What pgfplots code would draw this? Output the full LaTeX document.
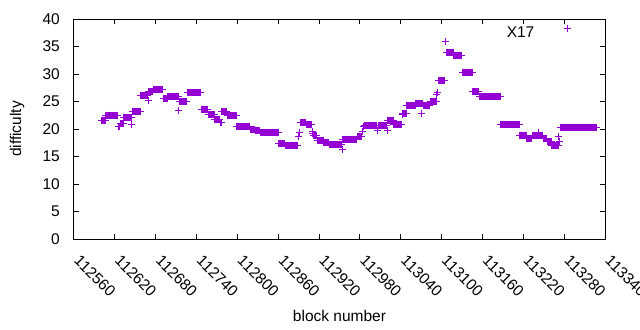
\documentclass[border=0pt]{standalone}
\usepackage{fontspec}
\setmainfont{Liberation Sans}
\usepackage{pgfplots}
\pgfplotsset{compat=1.18}
\definecolor{gpviolet}{RGB}{148,0,211}
\begin{document}
\begin{tikzpicture}[font=\fontsize{15.5bp}{18bp}\selectfont]
\path[use as bounding box, clip] (-74bp,-91bp) rectangle (566bp,239bp);
\begin{axis}[
  scale only axis, width=531bp, height=220bp,
  xmin=112560, xmax=113340, ymin=0, ymax=40,
  scaled x ticks=false, scaled y ticks=false,
  xtick={112560,112620,112680,112740,112800,112860,112920,112980,113040,113100,113160,113220,113280,113340},
  xticklabels={112560,112620,112680,112740,112800,112860,112920,112980,113040,113100,113160,113220,113280,113340},
  ytick={0,5,10,15,20,25,30,35,40},
  yticklabels={0,5,10,15,20,25,30,35,40},
  tick align=inside, major tick length=5bp,
  axis line style={line width=1bp},
  every tick/.style={black, line width=1bp},
  xticklabel style={xshift=7bp, yshift=-15bp, rotate=-45, anchor=north west, inner sep=0pt},
  yticklabel style={anchor=east, inner sep=0pt, xshift=-14bp},
  xlabel={block number}, ylabel={difficulty},
  xlabel style={at={(axis description cs:0.5,0)}, anchor=base, yshift=-82bp, inner sep=0pt},
  ylabel style={at={(axis description cs:-0.1073,0.5)}, anchor=center, inner sep=0pt},
  legend plot pos=right,
  legend image code/.code={\draw[#1] plot coordinates {(0bp,4bp)};},
  legend style={draw=none, fill=none, at={(axis description cs:0.937,0.941)}, anchor=east, inner sep=0pt, nodes={inner sep=0pt}, column sep=30bp},
]
\addplot[only marks, mark=+, mark size=3.5bp, color=gpviolet, line width=1bp] coordinates {
(112600,21.6)(112601,21.6)(112602,21.6)(112603,21.6)(112604,21.6)(112605,21.6)(112606,21.6)
(112607,22.5)(112608,22.5)(112609,22.5)(112610,22.5)(112611,22.5)(112612,22.5)(112613,22.5)(112614,22.5)(112615,22.5)(112616,22.5)(112617,22.5)(112618,22.5)(112619,22.5)(112620,22.5)(112621,22.5)(112622,22.5)(112623,22.5)(112624,22.5)
(112625,20.4)(112626,20.4)(112627,20.4)
(112628,21.0)(112629,21.0)(112630,21.0)(112631,21.0)(112632,21.0)
(112633,22.1)(112634,22.1)(112635,22.1)(112636,22.1)(112637,22.1)(112638,22.1)(112639,22.1)(112640,22.1)(112641,22.1)(112642,22.1)(112643,22.1)(112644,22.1)
(112645,20.9)
(112646,23.2)(112647,23.2)(112648,23.2)(112649,23.2)(112650,23.2)(112651,23.2)(112652,23.2)(112653,23.2)(112654,23.2)(112655,23.2)(112656,23.2)(112657,23.2)
(112658,26.1)(112659,26.1)(112660,26.1)(112661,26.1)(112662,26.1)(112663,26.1)(112664,26.1)(112665,26.1)(112666,26.1)(112667,26.1)(112668,26.1)
(112669,25.1)
(112670,26.8)(112671,26.8)(112672,26.8)(112673,26.8)(112674,26.8)(112675,26.8)(112676,26.8)
(112677,27.2)(112678,27.2)(112679,27.2)(112680,27.2)(112681,27.2)(112682,27.2)(112683,27.2)(112684,27.2)(112685,27.2)(112686,27.2)(112687,27.2)(112688,27.2)(112689,27.2)(112690,27.2)
(112691,25.5)(112692,25.5)(112693,25.5)(112694,25.5)(112695,25.5)(112696,25.5)(112697,25.5)
(112698,25.9)(112699,25.9)(112700,25.9)(112701,25.9)(112702,25.9)(112703,25.9)(112704,25.9)(112705,25.9)(112706,25.9)(112707,25.9)(112708,25.9)(112709,25.9)(112710,25.9)(112711,25.9)(112712,25.9)(112713,25.9)
(112714,23.3)
(112715,25.0)(112716,25.0)(112717,25.0)(112718,25.0)(112719,25.0)(112720,25.0)(112721,25.0)(112722,25.0)(112723,25.0)(112724,25.0)(112725,25.0)
(112726,26.6)(112727,26.6)(112728,26.6)(112729,26.6)(112730,26.6)(112731,26.6)(112732,26.6)(112733,26.6)(112734,26.6)(112735,26.6)(112736,26.6)(112737,26.6)(112738,26.6)(112739,26.6)(112740,26.6)(112741,26.6)(112742,26.6)(112743,26.6)(112744,26.6)(112745,26.6)(112746,26.6)
(112747,23.6)(112748,23.6)(112749,23.6)(112750,23.6)(112751,23.6)(112752,23.6)(112753,23.6)(112754,23.6)(112755,23.6)(112756,23.6)
(112757,22.6)(112758,22.6)(112759,22.6)(112760,22.6)(112761,22.6)(112762,22.6)(112763,22.6)(112764,22.6)(112765,22.6)(112766,22.6)
(112767,21.8)(112768,21.8)(112769,21.8)(112770,21.8)(112771,21.8)(112772,21.8)(112773,21.8)(112774,21.8)
(112775,21.1)(112776,21.1)
(112777,23.1)(112778,23.1)(112779,23.1)(112780,23.1)(112781,23.1)(112782,23.1)(112783,23.1)(112784,23.1)
(112785,22.5)(112786,22.5)(112787,22.5)(112788,22.5)(112789,22.5)(112790,22.5)(112791,22.5)(112792,22.5)(112793,22.5)(112794,22.5)(112795,22.5)(112796,22.5)(112797,22.5)(112798,22.5)
(112799,20.5)(112800,20.5)(112801,20.5)(112802,20.5)(112803,20.5)(112804,20.5)(112805,20.5)(112806,20.5)(112807,20.5)(112808,20.5)(112809,20.5)(112810,20.5)(112811,20.5)(112812,20.5)(112813,20.5)(112814,20.5)(112815,20.5)(112816,20.5)(112817,20.5)(112818,20.5)
(112819,20.0)(112820,20.0)(112821,20.0)(112822,20.0)(112823,20.0)(112824,20.0)(112825,20.0)
(112826,19.8)(112827,19.8)(112828,19.8)(112829,19.8)(112830,19.8)(112831,19.8)(112832,19.8)(112833,19.8)
(112834,19.4)(112835,19.4)(112836,19.4)(112837,19.4)(112838,19.4)(112839,19.4)(112840,19.4)(112841,19.4)(112842,19.4)(112843,19.4)(112844,19.4)(112845,19.4)(112846,19.4)(112847,19.4)(112848,19.4)(112849,19.4)(112850,19.4)(112851,19.4)(112852,19.4)(112853,19.4)(112854,19.4)(112855,19.4)(112856,19.4)(112857,19.4)(112858,19.4)(112859,19.4)(112860,19.4)
(112861,17.4)(112862,17.4)(112863,17.4)(112864,17.4)(112865,17.4)(112866,17.4)(112867,17.4)(112868,17.4)(112869,17.4)
(112870,17.0)(112871,17.0)(112872,17.0)(112873,17.0)(112874,17.0)(112875,17.0)(112876,17.0)(112877,17.0)(112878,17.0)(112879,17.0)(112880,17.0)(112881,17.0)(112882,17.0)(112883,17.0)(112884,17.0)(112885,17.0)(112886,17.0)(112887,17.0)(112888,17.0)(112889,17.0)
(112890,18.7)(112891,19.3)
(112892,21.1)(112893,21.1)(112894,21.1)(112895,21.1)(112896,21.1)(112897,21.1)(112898,21.1)(112899,21.1)(112900,21.1)
(112901,20.8)(112902,20.8)(112903,20.8)(112904,20.8)(112905,20.8)(112906,20.8)(112907,20.8)(112908,20.8)(112909,20.8)
(112910,19.5)(112911,19.1)
(112912,18.8)(112913,18.8)(112914,18.8)(112915,18.8)(112916,18.8)
(112917,17.9)(112918,17.9)(112919,17.9)(112920,17.9)(112921,17.9)(112922,17.9)(112923,17.9)(112924,17.9)(112925,17.9)(112926,17.9)
(112927,17.6)(112928,17.6)(112929,17.6)(112930,17.6)(112931,17.6)(112932,17.6)(112933,17.6)(112934,17.6)
(112935,17.1)(112936,17.1)(112937,17.1)(112938,17.1)(112939,17.1)(112940,17.1)(112941,17.1)(112942,17.1)(112943,17.1)(112944,17.1)(112945,17.1)(112946,17.1)(112947,17.1)(112948,17.1)(112949,17.1)(112950,17.1)(112951,17.1)(112952,17.1)(112953,17.1)
(112954,16.2)
(112955,18.1)(112956,18.1)(112957,18.1)(112958,18.1)(112959,18.1)(112960,18.1)(112961,18.1)(112962,18.1)(112963,18.1)(112964,18.1)(112965,18.1)(112966,18.1)(112967,18.1)(112968,18.1)(112969,18.1)(112970,18.1)(112971,18.1)(112972,18.1)(112973,18.1)(112974,18.1)(112975,18.1)
(112976,18.6)(112977,18.6)(112978,18.6)(112979,18.6)(112980,18.6)(112981,18.6)(112982,18.6)(112983,18.6)
(112984,19.6)(112985,20.5)
(112986,20.6)(112987,20.6)(112988,20.6)(112989,20.6)(112990,20.6)(112991,20.6)(112992,20.6)(112993,20.6)(112994,20.6)(112995,20.6)(112996,20.6)(112997,20.6)(112998,20.6)(112999,20.6)(113000,20.6)(113001,20.6)(113002,20.6)(113003,20.6)(113004,20.6)(113005,20.6)(113006,19.8)(113007,20.6)(113008,20.6)(113009,20.6)(113010,20.6)(113011,20.6)(113012,20.6)(113013,20.6)(113014,20.6)(113015,20.6)(113016,20.6)(113017,20.6)(113018,20.6)(113019,20.6)
(113020,19.7)
(113021,21.6)(113022,21.6)(113023,21.6)(113024,21.6)(113025,21.6)(113026,21.6)(113027,21.6)(113028,21.6)(113029,21.6)
(113030,20.8)(113031,20.8)(113032,20.8)(113033,20.8)(113034,20.8)(113035,20.8)(113036,20.8)(113037,20.8)(113038,20.8)(113039,20.8)(113040,20.8)(113041,20.8)
(113042,22.7)
(113043,22.9)(113044,22.9)(113045,22.9)(113046,22.9)(113047,22.9)(113048,22.9)
(113049,24.3)(113050,24.3)(113051,24.3)(113052,24.3)(113053,24.3)(113054,24.3)(113055,24.3)(113056,24.3)(113057,24.3)(113058,24.3)(113059,24.3)(113060,24.3)(113061,24.3)
(113062,24.6)(113063,24.6)(113064,24.6)(113065,24.6)(113066,24.6)(113067,24.6)(113068,24.6)(113069,24.6)(113070,24.6)(113071,22.9)(113072,24.6)
(113073,24.3)(113074,24.3)(113075,24.3)(113076,24.3)(113077,24.3)(113078,24.3)(113079,24.3)(113080,24.3)(113081,24.3)(113082,24.3)
(113083,25.0)(113084,25.0)(113085,25.0)(113086,25.0)(113087,25.0)(113088,25.0)(113089,25.0)(113090,25.0)(113091,25.0)(113092,25.0)
(113093,26.3)(113094,26.7)
(113095,28.8)(113096,28.8)(113097,28.8)(113098,28.8)(113099,28.8)(113100,28.8)(113101,28.8)(113102,28.8)(113103,28.8)(113104,28.8)
(113105,35.9)(113106,35.9)
(113107,33.9)(113108,33.9)(113109,33.9)(113110,33.9)(113111,33.9)(113112,33.9)(113113,33.9)(113114,33.9)(113115,33.9)(113116,33.9)(113117,33.9)
(113118,33.4)(113119,33.4)(113120,33.4)(113121,33.4)(113122,33.4)(113123,33.4)(113124,33.4)(113125,33.4)(113126,33.4)(113127,33.4)(113128,33.4)(113129,33.4)
(113130,30.3)(113131,30.3)(113132,30.3)(113133,30.3)(113134,30.3)(113135,30.3)(113136,30.3)(113137,30.3)(113138,30.3)(113139,30.3)(113140,30.3)(113141,30.3)(113142,30.3)(113143,30.3)(113144,30.3)(113145,30.3)
(113146,26.8)(113147,26.8)(113148,26.8)(113149,26.8)(113150,26.8)(113151,26.8)(113152,26.8)(113153,26.8)(113154,26.8)
(113155,25.9)(113156,25.9)(113157,25.9)(113158,25.9)(113159,25.9)(113160,25.9)(113161,25.9)(113162,25.9)(113163,25.9)(113164,25.9)(113165,25.9)(113166,25.9)(113167,25.9)(113168,25.9)(113169,25.9)(113170,25.9)(113171,25.9)(113172,25.9)(113173,25.9)(113174,25.9)(113175,25.9)(113176,25.9)(113177,25.9)(113178,25.9)(113179,25.9)(113180,25.9)(113181,25.9)(113182,25.9)(113183,25.9)(113184,25.9)(113185,25.9)(113186,25.9)
(113187,20.8)(113188,20.8)(113189,20.8)(113190,20.8)(113191,20.8)(113192,20.8)(113193,20.8)(113194,20.8)(113195,20.8)(113196,20.8)(113197,20.8)(113198,20.8)(113199,20.8)(113200,20.8)(113201,20.8)(113202,20.8)(113203,20.8)(113204,20.8)(113205,20.8)(113206,20.8)(113207,20.8)(113208,20.8)(113209,20.8)(113210,20.8)(113211,20.8)(113212,20.8)(113213,20.8)(113214,20.8)
(113215,18.9)(113216,18.9)(113217,18.9)(113218,18.9)(113219,18.9)(113220,18.9)(113221,18.9)(113222,18.9)(113223,18.9)(113224,18.9)
(113225,18.3)(113226,18.3)(113227,18.3)(113228,18.3)(113229,18.3)(113230,18.3)(113231,18.3)(113232,18.3)
(113233,18.9)(113234,18.9)(113235,18.9)(113236,18.9)(113237,18.9)(113238,18.9)(113239,18.9)(113240,18.9)(113241,18.9)
(113242,19.4)
(113243,18.9)(113244,18.9)(113245,18.9)(113246,18.9)(113247,18.9)(113248,18.9)
(113249,18.3)(113250,18.3)(113251,18.3)(113252,18.3)(113253,18.3)(113254,18.3)
(113255,17.7)(113256,17.7)(113257,17.7)(113258,17.7)(113259,17.7)(113260,17.7)(113261,17.7)
(113262,17.0)(113263,17.0)(113264,17.0)(113265,17.0)(113266,17.0)(113267,17.0)(113268,17.0)(113269,17.0)(113270,17.0)(113271,17.0)
(113272,18.6)(113273,17.8)
(113274,20.3)(113275,20.3)(113276,20.3)(113277,20.3)(113278,20.3)(113279,20.3)(113280,20.3)(113281,20.3)(113282,20.3)(113283,20.3)(113284,20.3)(113285,20.3)(113286,20.3)(113287,20.3)(113288,20.3)(113289,20.3)(113290,20.3)(113291,20.3)(113292,20.3)(113293,20.3)(113294,20.3)(113295,20.3)(113296,20.3)(113297,20.3)(113298,20.3)(113299,20.3)(113300,20.3)(113301,20.3)(113302,20.3)(113303,20.3)(113304,20.3)(113305,20.3)(113306,20.3)(113307,20.3)(113308,20.3)(113309,20.3)(113310,20.3)(113311,20.3)(113312,20.3)(113313,20.3)(113314,20.3)(113315,20.3)(113316,20.3)(113317,20.3)(113318,20.3)(113319,20.3)(113320,20.3)(113321,20.3)(113322,20.3)(113323,20.3)(113324,20.3)(113325,20.3)(113326,20.3)(113327,20.3)
};
\addlegendentry{X17}
\end{axis}
\end{tikzpicture}
\end{document}
